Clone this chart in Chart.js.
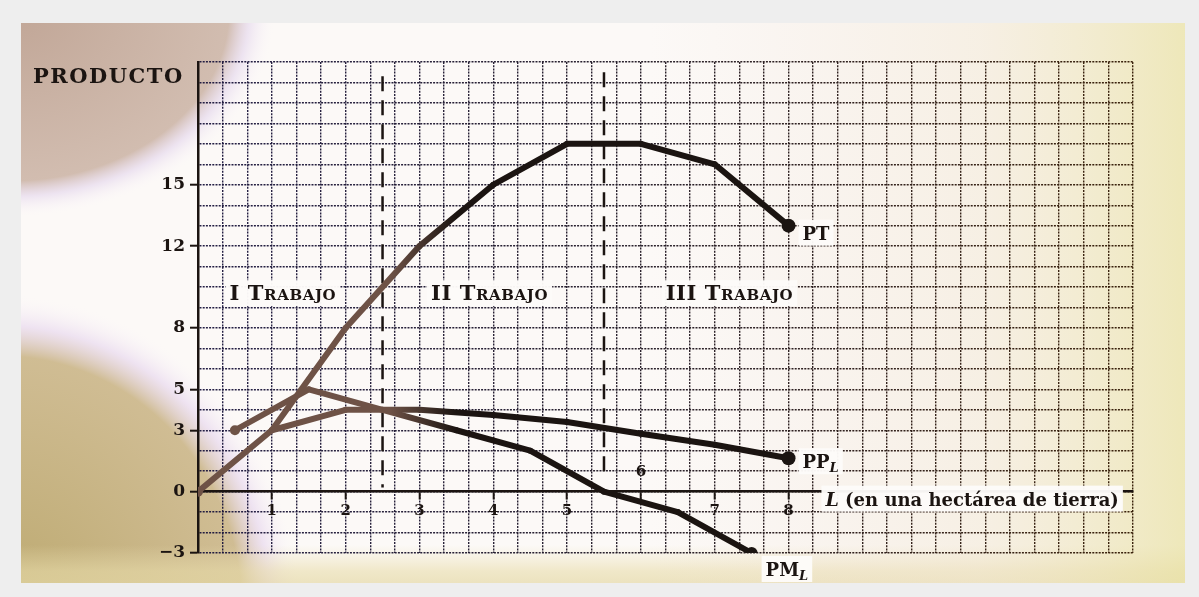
<!DOCTYPE html>
<html lang="es">
<head>
<meta charset="utf-8">
<title>Producto total, medio y marginal del trabajo</title>
<script src="https://cdn.jsdelivr.net/npm/chart.js@4.4.1/dist/chart.umd.min.js"></script>
<style>
  html, body { margin: 0; padding: 0; background: #eeeeee; }
  #wrap { width: 1199px; height: 597px; }
</style>
</head>
<body>
<div id="wrap"><canvas id="myChart"></canvas></div>
<script>
// unidades de trabajo (L) y producto
const laborUnits = [0, 1, 2, 3, 4, 5, 6, 7, 8];
const totalProduct = [0, 3, 8, 12, 15, 17, 17, 16, 13];
const avgLabor = [1, 2, 3, 4, 5, 6, 7, 8];
const avgProduct = [3, 4, 4, 3.75, 3.4, 2.83, 2.29, 1.63];
const margLabor = [0.5, 1.5, 2.5, 3.5, 4.5, 5.5, 6.5, 7.5];
const margProduct = [3, 5, 4, 3, 2, 0, -1, -3];

const yTickLabels = [-3, 0, 3, 5, 8, 12, 15];
const xTickLabels = [1, 2, 3, 4, 5, 6, 7, 8];
const xTickAbove = [6];

// limites de las etapas
const stageBounds = [2.5, 5.5];
const stageTop = [20.3, 20.5];
const stageBottom = [0.2, 1.0];
const stageNames = ['I Trabajo', 'II Trabajo', 'III Trabajo'];
const stageNameX = [1.15, 3.95, 7.2];
const stageNameY = 9.7;

const SERIF = '"DejaVu Serif", "Liberation Serif", serif';
const BROWN = 'rgb(110,82,70)';
const INK = '#1b1411';

function near(v, list) {
  return list.some(t => Math.abs(t - v) < 1e-6);
}

// color que pasa de marron (izquierda) a negro (derecha)
function inkColor(c) {
  const chart = c.chart;
  const area = chart.chartArea;
  if (!area) return INK;
  const xs = chart.scales.x;
  const g = chart.ctx.createLinearGradient(area.left, 0, area.right, 0);
  const f = v => (xs.getPixelForValue(v) - area.left) / (area.right - area.left);
  g.addColorStop(0, BROWN);
  g.addColorStop(f(2.6), BROWN);
  g.addColorStop(f(3.5), INK);
  g.addColorStop(1, INK);
  return g;
}

function gridColor(c) {
  const chart = c.chart;
  const area = chart.chartArea;
  if (!area) return '#333';
  const g = chart.ctx.createLinearGradient(area.left, 0, area.right, 0);
  g.addColorStop(0, 'rgba(25,20,60,0.95)');
  g.addColorStop(0.45, 'rgba(30,22,35,0.95)');
  g.addColorStop(1, 'rgba(55,30,8,0.98)');
  return g;
}

function endRadius(big, first, mid) {
  return c => {
    const n = c.dataset.data.length;
    if (c.dataIndex === n - 1) return big;
    if (c.dataIndex === 0) return first;
    return mid;
  };
}

const paperBackground = {
  id: 'paperBackground',
  beforeDraw(chart) {
    const ctx = chart.ctx;
    const W = chart.width, H = chart.height;
    ctx.save();
    ctx.fillStyle = '#eeeeee';
    ctx.fillRect(0, 0, W, H);
    ctx.beginPath();
    ctx.rect(21, 23, W - 35, H - 37);
    ctx.clip();
    ctx.fillStyle = '#fcf9f7';
    ctx.fillRect(0, 0, W, H);

    // sombra arriba a la izquierda
    ctx.save();
    ctx.translate(10, 10);
    ctx.scale(1, 0.78);
    let g = ctx.createRadialGradient(0, 0, 10, 0, 0, 265);
    g.addColorStop(0, 'rgba(190,162,146,0.95)');
    g.addColorStop(0.82, 'rgba(205,182,168,0.9)');
    g.addColorStop(0.9, 'rgba(225,210,235,0.55)');
    g.addColorStop(1, 'rgba(250,245,250,0)');
    ctx.fillStyle = g;
    ctx.fillRect(-400, -100, 800, 800);
    ctx.restore();

    // sombra abajo a la izquierda
    ctx.save();
    ctx.translate(0, 610);
    ctx.scale(1, 1.05);
    g = ctx.createRadialGradient(0, 0, 10, 0, 0, 300);
    g.addColorStop(0, 'rgba(185,165,105,0.95)');
    g.addColorStop(0.8, 'rgba(200,178,130,0.85)');
    g.addColorStop(0.9, 'rgba(225,205,235,0.5)');
    g.addColorStop(1, 'rgba(250,245,250,0)');
    ctx.fillStyle = g;
    ctx.fillRect(-400, -400, 800, 800);
    ctx.restore();

    // franja inferior y lado derecho amarillento
    g = ctx.createLinearGradient(0, 545, 0, H);
    g.addColorStop(0, 'rgba(235,225,180,0)');
    g.addColorStop(0.5, 'rgba(232,220,170,0.6)');
    g.addColorStop(1, 'rgba(225,212,160,0.8)');
    ctx.fillStyle = g;
    ctx.fillRect(0, 545, W, H - 545);
    g = ctx.createLinearGradient(650, 0, W, 0);
    g.addColorStop(0, 'rgba(240,225,215,0)');
    g.addColorStop(0.6, 'rgba(240,228,205,0.45)');
    g.addColorStop(1, 'rgba(232,225,160,0.75)');
    ctx.fillStyle = g;
    ctx.fillRect(650, 0, W - 650, H);
    ctx.restore();
  }
};

// texto con versalitas / subindices sobre caja blanca
function drawRuns(ctx, runs, x, y, align, box) {
  let total = 0;
  runs.forEach(r => { ctx.font = r.font; r.w = ctx.measureText(r.text).width + (r.gap || 0); total += r.w; });
  let sx = align === 'center' ? x - total / 2 : x;
  if (box) {
    ctx.fillStyle = 'rgba(253,251,249,0.97)';
    ctx.fillRect(sx - 4, y - 13, total + 8, 26);
  }
  ctx.fillStyle = INK;
  ctx.textBaseline = 'alphabetic';
  ctx.textAlign = 'left';
  runs.forEach(r => {
    ctx.font = r.font;
    ctx.fillText(r.text, sx, y + 7 + (r.dy || 0));
    sx += r.w;
  });
}

function smallCaps(text, big, small) {
  const runs = [];
  for (const ch of text) {
    const lower = ch !== ch.toUpperCase();
    runs.push({ text: ch.toUpperCase(), font: 'bold ' + (lower ? small : big) + 'px ' + SERIF, gap: 0.6 });
  }
  return runs;
}

const chartLabels = {
  id: 'chartLabels',
  afterDatasetsDraw(chart) {
    const ctx = chart.ctx;
    const xs = chart.scales.x, ys = chart.scales.y;
    const area = chart.chartArea;
    ctx.save();

    // titulo del eje vertical
    ctx.font = 'bold 21px ' + SERIF;
    ctx.letterSpacing = '1.5px';
    ctx.fillStyle = INK;
    ctx.textAlign = 'left';
    ctx.textBaseline = 'alphabetic';
    ctx.fillText('PRODUCTO', area.left - 165, area.top + 21);
    ctx.letterSpacing = '0px';

    // etapas
    stageNames.forEach((name, i) => {
      drawRuns(ctx, smallCaps(name, 21, 15), xs.getPixelForValue(stageNameX[i]), ys.getPixelForValue(stageNameY), 'center', true);
    });

    // nombres de las curvas
    const tag = (main, sub, ds, dx, dy) => {
      const meta = chart.getDatasetMeta(ds);
      const last = meta.data[meta.data.length - 1];
      const runs = [{ text: main, font: 'bold 18px ' + SERIF }];
      if (sub) runs.push({ text: sub, font: 'italic bold 13px ' + SERIF, dy: 4 });
      drawRuns(ctx, runs, last.x + dx, last.y + dy, 'left', true);
    };
    tag('PT', '', 0, 14, 7);
    tag('PP', 'L', 1, 14, 3);
    tag('PM', 'L', 2, 14, 16);

    // titulo del eje horizontal
    drawRuns(ctx, [
      { text: 'L', font: 'italic bold 19px ' + SERIF },
      { text: ' (en una hectárea de tierra)', font: 'bold 18px ' + SERIF }
    ], xs.getPixelForValue(8.5), ys.getPixelForValue(0) + 7, 'left', true);

    // etiqueta del 6 por encima del eje
    xTickAbove.forEach(v => {
      ctx.font = 'bold 15px ' + SERIF;
      ctx.fillStyle = INK;
      ctx.textAlign = 'center';
      ctx.textBaseline = 'middle';
      ctx.fillText(String(v), xs.getPixelForValue(v), ys.getPixelForValue(0) - 20);
    });
    ctx.restore();
  }
};

const lineStyle = {
  borderColor: inkColor,
  backgroundColor: inkColor,
  pointBackgroundColor: inkColor,
  pointBorderWidth: 0,
  borderWidth: 6,
  borderCapStyle: 'round',
  borderJoinStyle: 'round',
  tension: 0,
  fill: false
};

const dividerSets = stageBounds.map((b, i) => ({
  label: 'etapa ' + (i + 1),
  data: [{ x: b, y: stageTop[i] }, { x: b, y: stageBottom[i] }],
  borderColor: INK,
  borderWidth: 2.5,
  borderDash: [15, 9],
  pointRadius: 0,
  fill: false
}));

new Chart('myChart', {
  type: 'line',
  data: {
    datasets: [
      { label: 'PT', data: laborUnits.map((x, i) => ({ x, y: totalProduct[i] })), ...lineStyle, pointRadius: endRadius(7, 5, 3) },
      { label: 'PPL', data: avgLabor.map((x, i) => ({ x, y: avgProduct[i] })), ...lineStyle, pointRadius: endRadius(7, 2, 3) },
      { label: 'PML', data: margLabor.map((x, i) => ({ x, y: margProduct[i] })), ...lineStyle, pointRadius: endRadius(6, 5, 3) },
      ...dividerSets
    ]
  },
  options: {
    responsive: true,
    maintainAspectRatio: false,
    animation: false,
    layout: { padding: { top: 62, bottom: 44, right: 66, left: 0 } },
    plugins: {
      legend: { display: false },
      tooltip: { enabled: false }
    },
    scales: {
      x: {
        type: 'linear',
        position: { y: 0 },
        min: 0,
        max: 38 / 3,
        afterBuildTicks: axis => {
          axis.ticks = Array.from({ length: 39 }, (_, k) => ({ value: k / 3 }));
        },
        ticks: {
          autoSkip: false,
          maxRotation: 0,
          padding: 3,
          color: INK,
          font: { family: SERIF, size: 15, weight: 'bold' },
          callback: v => (near(v, xTickLabels) && !near(v, xTickAbove) ? String(Math.round(v)) : '')
        },
        grid: {
          color: gridColor,
          lineWidth: 1.4,
          tickLength: 7,
          tickWidth: 2,
          tickColor: c => (c.tick && near(c.tick.value, xTickLabels) ? INK : 'rgba(0,0,0,0)')
        },
        border: { display: true, color: INK, width: 2.5, dash: [2, 1.2] }
      },
      y: {
        type: 'linear',
        min: -3,
        max: 21,
        afterFit: s => { s.width = 198; },
        ticks: {
          stepSize: 1,
          autoSkip: false,
          padding: 5,
          color: INK,
          font: { family: SERIF, size: 17, weight: 'bold' },
          callback: v => (near(v, yTickLabels) ? (v < 0 ? '\u2212' + Math.abs(v) : String(v)) : '')
        },
        grid: {
          color: gridColor,
          lineWidth: 1.4,
          tickLength: 8,
          tickWidth: 2,
          tickColor: c => (c.tick && near(c.tick.value, yTickLabels) ? INK : 'rgba(0,0,0,0)')
        },
        border: { display: true, color: INK, width: 2.5, dash: [2, 1.2] }
      }
    }
  },
  plugins: [paperBackground, chartLabels]
});
</script>
</body>
</html>
